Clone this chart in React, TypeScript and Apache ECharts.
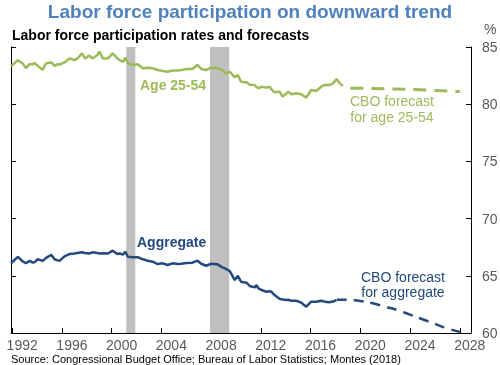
import React, { useEffect, useRef } from "react";
import * as echarts from "echarts";

const years = [
  1991.9, 1992.2, 1992.45, 1992.85, 1993.1, 1993.4, 1993.65, 1993.8, 1994.05, 1994.45, 1994.7, 1994.85,
  1995.15, 1995.4, 1995.65, 1995.8, 1996.2, 1996.6, 1997.0, 1997.25, 1997.6, 1997.85, 1998.2, 1998.45,
  1998.85, 1999.0, 1999.3, 1999.7, 2000.08, 2000.45, 2000.65, 2000.9, 2001.1, 2001.3, 2001.7, 2002.1,
  2002.5, 2002.9, 2003.3, 2003.7, 2004.1, 2004.5, 2004.9, 2005.3, 2005.6, 2006.0, 2006.5, 2006.9,
  2007.2, 2007.6, 2008.0, 2008.5, 2008.9, 2009.2, 2009.5, 2009.9, 2010.15, 2010.4, 2010.85, 2011.1,
  2011.5, 2011.65, 2011.8, 2012.05, 2012.45, 2012.7, 2012.85, 2013.1, 2013.5, 2013.75, 2014.05, 2014.2,
  2014.45, 2014.85, 2015.25, 2015.65, 2016.05, 2016.45, 2016.85, 2017.15, 2017.5, 2017.8, 2018.08, 2018.35,
  2018.6,
];

const prime = [
  83.3, 83.6, 83.85, 83.55, 83.15, 83.5, 83.5, 83.6, 83.35, 83.0, 83.55, 83.6,
  83.65, 83.35, 83.5, 83.45, 83.65, 84.0, 83.85, 84.0, 84.45, 84.0, 84.25, 84.0,
  84.3, 84.6, 84.0, 84.0, 84.45, 84.0, 83.85, 83.7, 84.07, 83.57, 83.43, 83.49,
  83.14, 83.19, 83.14, 82.99, 82.9, 82.84, 82.95, 82.95, 82.99, 83.08, 83.08, 83.43,
  83.08, 82.99, 83.19, 83.14, 82.99, 82.7, 82.84, 82.35, 82.55, 81.97, 81.91, 81.7,
  81.68, 81.5, 81.39, 81.53, 81.45, 81.53, 81.3, 81.04, 81.1, 80.66, 80.95, 81.1,
  80.87, 80.95, 80.87, 80.57, 81.24, 81.15, 81.53, 81.68, 81.68, 81.82, 82.2, 81.82,
  81.6,
];

const aggregate = [
  66.1, 66.4, 66.65, 66.25, 66.1, 66.3, 66.15, 66.2, 66.45, 66.3, 66.55, 66.65,
  66.82, 66.45, 66.35, 66.3, 66.7, 66.9, 66.95, 67.0, 67.05, 67.0, 66.95, 67.05,
  67.0, 66.95, 66.98, 66.95, 67.2, 66.9, 66.95, 66.85, 67.1, 66.67, 66.62, 66.62,
  66.44, 66.32, 66.23, 66.03, 66.09, 65.94, 66.09, 66.03, 66.06, 66.12, 66.15, 66.32,
  66.05, 65.88, 66.05, 66.0, 65.74, 65.6, 65.4, 64.63, 65.0, 64.48, 64.4, 64.11,
  63.99, 64.19, 63.9, 63.76, 63.61, 63.65, 63.6, 63.32, 63.0, 62.92, 62.88, 62.9,
  62.82, 62.82, 62.65, 62.3, 62.74, 62.74, 62.82, 62.74, 62.68, 62.75, 62.88, null,
  null,
];

const primeForecastYears = [2019.2, 2020, 2022, 2024, 2026, 2028];
const primeForecast = [81.4, 81.4, 81.35, 81.3, 81.2, 81.1];

const aggForecastYears = [2018.1, 2019, 2020, 2021, 2022, 2023, 2024, 2025, 2026, 2027, 2028];
const aggForecast = [62.9, 62.9, 62.8, 62.6, 62.3, 62.0, 61.6, 61.2, 60.8, 60.4, 60.1];

const recessions: [number, number][] = [
  [2001.17, 2001.9],
  [2007.9, 2009.45],
];

const xTicks = [1992, 1996, 2000, 2004, 2008, 2012, 2016, 2020, 2024, 2028];
const LABEL_SHIFT = 0.8; // labels sit just right of their tick, as in the source

const GREEN = "#9BBB59";
const BLUE = "#23497E";
const FONT = "'Liberation Sans', Arial, sans-serif";

const pairs = (xs: number[], ys: (number | null)[]) => xs.map((x, i) => [x, ys[i]]);

export default function App() {
  const ref = useRef<HTMLDivElement>(null);
  useEffect(() => {
    if (!ref.current) return;
    const chart = echarts.init(ref.current, undefined, { renderer: "svg" });
    const yAxisCommon = {
      type: "value" as const,
      min: 60,
      max: 85,
      interval: 5,
      splitLine: { show: false },
      axisLine: { show: true, lineStyle: { color: "#000", width: 1 } },
      axisTick: { show: true, inside: true, length: 5, lineStyle: { color: "#000" } },
    };
    chart.setOption({
      animation: false,
      textStyle: { fontFamily: FONT },
      grid: { left: 11, right: 29, top: 47, bottom: 32, containLabel: false, outerBoundsMode: "none" },
      xAxis: {
        type: "value",
        min: 1991.9,
        max: 2028.9,
        splitLine: { show: false },
        axisLine: { show: true, lineStyle: { color: "#000", width: 1 } },
        axisTick: { show: true, inside: true, length: 5, customValues: xTicks, lineStyle: { color: "#000" } },
        axisLabel: {
          customValues: xTicks.map((t) => t + LABEL_SHIFT),
          color: "#595959",
          fontSize: 14,
          lineHeight: 10,
          fontFamily: FONT,
          margin: 7,
          formatter: (v: number) => String(Math.round(v - LABEL_SHIFT)),
        },
      },
      yAxis: [
        { ...yAxisCommon, position: "left", axisLabel: { show: false } },
        {
          ...yAxisCommon,
          position: "right",
          axisLabel: { show: true, color: "#595959", fontSize: 14, fontFamily: FONT, margin: 11 },
        },
      ],
      graphic: [
        {
          type: "text",
          left: "center",
          top: 2,
          style: { text: "Labor force participation on downward trend", font: `bold 19px ${FONT}`, fill: "#4F81BD" },
        },
        {
          type: "text",
          left: 12,
          top: 28,
          style: { text: "Labor force participation rates and forecasts", font: `bold 14px ${FONT}`, fill: "#000" },
        },
        {
          type: "text",
          left: 484,
          top: 22,
          style: { text: "%", font: `14px ${FONT}`, fill: "#595959" },
        },
        {
          type: "text",
          left: 140,
          top: 78,
          style: { text: "Age 25-54", font: `bold 14px ${FONT}`, fill: GREEN },
        },
        {
          type: "text",
          x: 392,
          y: 93,
          style: {
            text: "CBO forecast\nfor age 25-54",
            font: `14px ${FONT}`,
            fill: GREEN,
            align: "center",
            lineHeight: 16,
          },
        },
        {
          type: "text",
          left: 137,
          top: 235,
          style: { text: "Aggregate", font: `bold 14px ${FONT}`, fill: BLUE },
        },
        {
          type: "text",
          x: 403,
          y: 269,
          style: {
            text: "CBO forecast\nfor aggregate",
            font: `14px ${FONT}`,
            fill: BLUE,
            align: "center",
            lineHeight: 15,
          },
        },
        {
          type: "text",
          left: 11,
          top: 353,
          style: {
            text: "Source: Congressional Budget Office; Bureau of Labor Statistics; Montes (2018)",
            font: `11px ${FONT}`,
            lineHeight: 11,
            fill: "#000",
          },
        },
      ],
      series: [
        {
          type: "line",
          data: [],
          z: 1,
          markArea: {
            silent: true,
            itemStyle: { color: "#BFBFBF", opacity: 1 },
            data: recessions.map(([a, b]) => [{ xAxis: a }, { xAxis: b }]),
          },
        },
        {
          type: "line",
          data: pairs(years, prime),
          showSymbol: false,
          z: 3,
          lineStyle: { color: GREEN, width: 2.5 },
        },
        {
          type: "line",
          data: pairs(years, aggregate),
          showSymbol: false,
          connectNulls: false,
          z: 3,
          lineStyle: { color: BLUE, width: 2.5 },
        },
        {
          type: "line",
          data: pairs(primeForecastYears, primeForecast),
          showSymbol: false,
          z: 3,
          lineStyle: { color: GREEN, width: 3, type: [13, 8] },
        },
        {
          type: "line",
          data: pairs(aggForecastYears, aggForecast),
          showSymbol: false,
          smooth: true,
          z: 3,
          lineStyle: { color: BLUE, width: 2.5, type: [10, 7] },
        },
      ],
    });
    return () => chart.dispose();
  }, []);
  return <div ref={ref} style={{ position: "fixed", left: 0, top: 0, width: 500, height: 365 }} />;
}
